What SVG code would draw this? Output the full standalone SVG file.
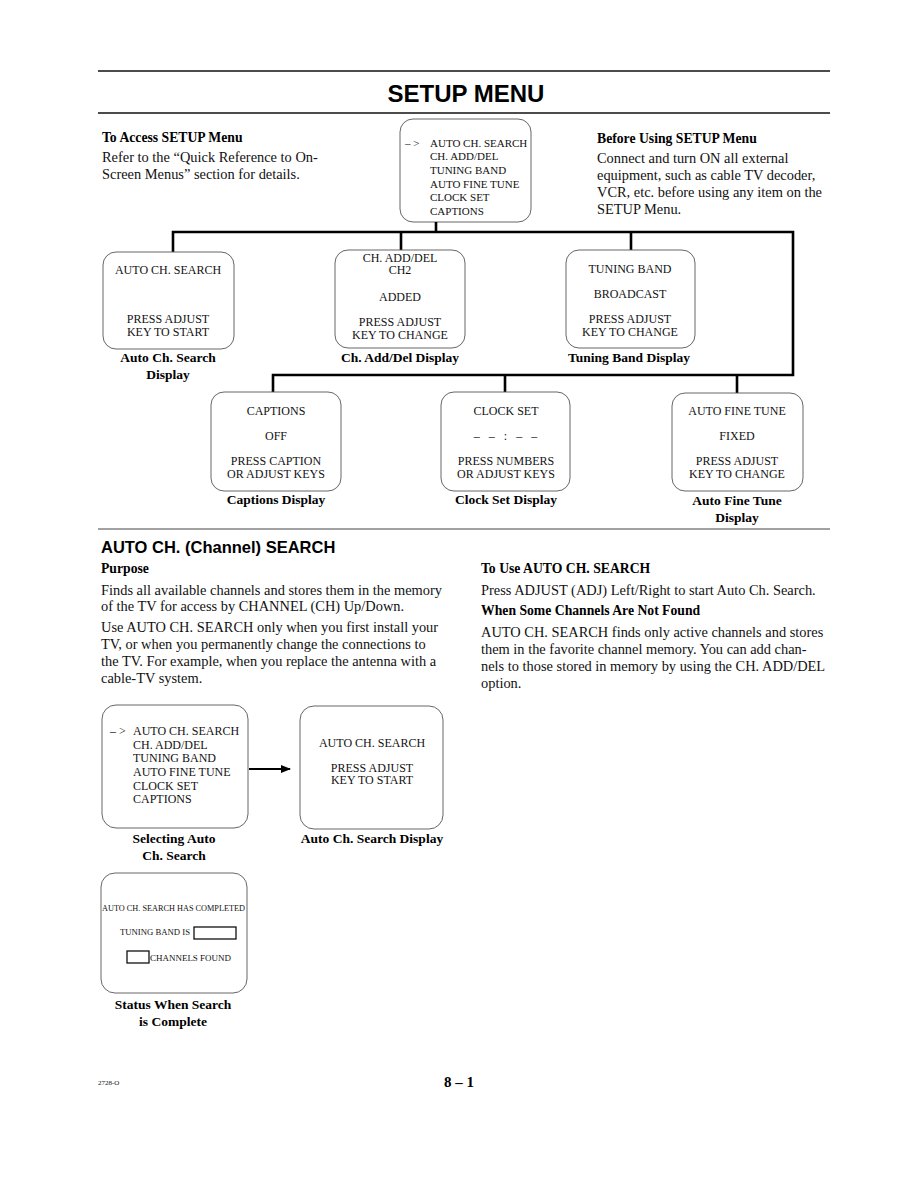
<svg xmlns="http://www.w3.org/2000/svg" width="918" height="1188" viewBox="0 0 918 1188">
<style>
.bg{fill:#fff}
.rule{stroke:#111;stroke-width:1.6;fill:none}
.thin{stroke:#444;stroke-width:1;fill:none}
.box{fill:none;stroke:#555;stroke-width:0.9}
.conn{stroke:#000;stroke-width:2.6;fill:none}
.title{font-family:"Liberation Sans",Arial,sans-serif;font-weight:bold;font-size:24px;fill:#000}
.h2{font-family:"Liberation Sans",Arial,sans-serif;font-weight:bold;font-size:16.5px;fill:#000}
.hb{font-family:"Liberation Serif","Times New Roman",serif;font-weight:bold;font-size:13.7px;fill:#000}
.body{font-family:"Liberation Serif","Times New Roman",serif;font-size:14.4px;fill:#111}
.bt{font-family:"Liberation Serif","Times New Roman",serif;font-size:12px;fill:#111}
.bs{font-family:"Liberation Serif","Times New Roman",serif;font-size:11px;fill:#111}
.tiny{font-family:"Liberation Serif","Times New Roman",serif;font-size:8px;fill:#111}
.lbl{font-family:"Liberation Serif","Times New Roman",serif;font-weight:bold;font-size:13.5px;fill:#000;text-anchor:middle}
.c{text-anchor:middle}
</style>
<defs>
<marker id="arr" markerWidth="10" markerHeight="8" refX="9" refY="4" orient="auto" markerUnits="userSpaceOnUse">
<path d="M0,0 L10,4 L0,8 Z" fill="#000"/>
</marker>
</defs>
<rect class="bg" x="0" y="0" width="918" height="1188"/>

<g id="header">
<line class="rule" x1="98" y1="71" x2="830" y2="71"/>
<text class="title c" x="466" y="102">SETUP MENU</text>
<line class="rule" x1="98" y1="113" x2="830" y2="113"/>
</g>

<g id="access-text">
<text class="hb" x="102" y="142">To Access SETUP Menu</text>
<text class="body" x="102" y="162">Refer to the “Quick Reference to On-</text>
<text class="body" x="102" y="179">Screen Menus” section for details.</text>
</g>

<g id="before-text">
<text class="hb" x="597" y="143">Before Using SETUP Menu</text>
<text class="body" x="597" y="163">Connect and turn ON all external</text>
<text class="body" x="597" y="180">equipment, such as cable TV decoder,</text>
<text class="body" x="597" y="197">VCR, etc. before using any item on the</text>
<text class="body" x="597" y="214">SETUP Menu.</text>
</g>

<g id="setup-menu">
<rect class="box" x="400" y="119" width="131" height="103" rx="13"/>
<text class="bs" x="405" y="147">– &gt;</text>
<text class="bs" x="430" y="147">AUTO CH. SEARCH</text>
<text class="bs" x="430" y="160">CH. ADD/DEL</text>
<text class="bs" x="430" y="174">TUNING BAND</text>
<text class="bs" x="430" y="188">AUTO FINE TUNE</text>
<text class="bs" x="430" y="201">CLOCK SET</text>
<text class="bs" x="430" y="215">CAPTIONS</text>
</g>

<g id="connectors">
<polyline class="conn" points="436,222 436,232"/>
<polyline class="conn" points="173,252 173,232 793,232 793,375 273,375 273,392"/>
<line class="conn" x1="401" y1="232" x2="401" y2="250"/>
<line class="conn" x1="631" y1="232" x2="631" y2="250"/>
<line class="conn" x1="505" y1="375" x2="505" y2="392"/>
<line class="conn" x1="737" y1="375" x2="737" y2="393"/>
<line stroke="#000" stroke-width="2" x1="249" y1="769" x2="290" y2="769" marker-end="url(#arr)"/>
</g>

<g id="auto-ch-search-display">
<rect class="box" x="103" y="252" width="131" height="97" rx="13"/>
<text class="bt c" x="168" y="274">AUTO CH. SEARCH</text>
<text class="bt c" x="168" y="323">PRESS ADJUST</text>
<text class="bt c" x="168" y="336">KEY TO START</text>
<text class="lbl" x="168" y="362">Auto Ch. Search</text>
<text class="lbl" x="168" y="379">Display</text>
</g>

<g id="ch-add-del-display">
<rect class="box" x="335" y="250" width="130" height="98" rx="13"/>
<text class="bt c" x="400" y="262">CH. ADD/DEL</text>
<text class="bt c" x="400" y="274">CH2</text>
<text class="bt c" x="400" y="301">ADDED</text>
<text class="bt c" x="400" y="326">PRESS ADJUST</text>
<text class="bt c" x="400" y="339">KEY TO CHANGE</text>
<text class="lbl" x="400" y="362">Ch. Add/Del Display</text>
</g>

<g id="tuning-band-display">
<rect class="box" x="566" y="250" width="129" height="98" rx="13"/>
<text class="bt c" x="630" y="273">TUNING BAND</text>
<text class="bt c" x="630" y="298">BROADCAST</text>
<text class="bt c" x="630" y="323">PRESS ADJUST</text>
<text class="bt c" x="630" y="336">KEY TO CHANGE</text>
<text class="lbl" x="629" y="362">Tuning Band Display</text>
</g>

<g id="captions-display">
<rect class="box" x="211" y="392" width="130" height="99" rx="13"/>
<text class="bt c" x="276" y="415">CAPTIONS</text>
<text class="bt c" x="276" y="440">OFF</text>
<text class="bt c" x="276" y="465">PRESS CAPTION</text>
<text class="bt c" x="276" y="478">OR ADJUST KEYS</text>
<text class="lbl" x="276" y="504">Captions Display</text>
</g>

<g id="clock-set-display">
<rect class="box" x="441" y="392" width="129" height="99" rx="13"/>
<text class="bt c" x="506" y="415">CLOCK SET</text>
<text class="bt c" x="507" y="440" style="letter-spacing:3px">– – : – –</text>
<text class="bt c" x="506" y="465">PRESS NUMBERS</text>
<text class="bt c" x="506" y="478">OR ADJUST KEYS</text>
<text class="lbl" x="506" y="504">Clock Set Display</text>
</g>

<g id="auto-fine-tune-display">
<rect class="box" x="672" y="393" width="131" height="98" rx="13"/>
<text class="bt c" x="737" y="415">AUTO FINE TUNE</text>
<text class="bt c" x="737" y="440">FIXED</text>
<text class="bt c" x="737" y="465">PRESS ADJUST</text>
<text class="bt c" x="737" y="478">KEY TO CHANGE</text>
<text class="lbl" x="737" y="505">Auto Fine Tune</text>
<text class="lbl" x="737" y="522">Display</text>
</g>

<g id="section-auto-ch">
<line class="thin" x1="98" y1="529" x2="830" y2="529"/>
<text class="h2" x="101" y="553">AUTO CH. (Channel) SEARCH</text>
<text class="hb" x="101" y="573">Purpose</text>
<text class="body" x="101" y="595">Finds all available channels and stores them in the memory</text>
<text class="body" x="101" y="611">of the TV for access by CHANNEL (CH) Up/Down.</text>
<text class="body" x="101" y="632">Use AUTO CH. SEARCH only when you first install your</text>
<text class="body" x="101" y="649">TV, or when you permanently change the connections to</text>
<text class="body" x="101" y="666">the TV. For example, when you replace the antenna with a</text>
<text class="body" x="101" y="683">cable-TV system.</text>
<text class="hb" x="481" y="573">To Use AUTO CH. SEARCH</text>
<text class="body" x="481" y="595">Press ADJUST (ADJ) Left/Right to start Auto Ch. Search.</text>
<text class="hb" x="481" y="615">When Some Channels Are Not Found</text>
<text class="body" x="481" y="637">AUTO CH. SEARCH finds only active channels and stores</text>
<text class="body" x="481" y="654">them in the favorite channel memory. You can add chan-</text>
<text class="body" x="481" y="671">nels to those stored in memory by using the CH. ADD/DEL</text>
<text class="body" x="481" y="688">option.</text>
</g>

<g id="selecting-auto-ch-search">
<rect class="box" x="102" y="705" width="146" height="123" rx="14"/>
<text class="bt" x="110" y="735">– &gt;</text>
<text class="bt" x="133" y="735">AUTO CH. SEARCH</text>
<text class="bt" x="133" y="749">CH. ADD/DEL</text>
<text class="bt" x="133" y="762">TUNING BAND</text>
<text class="bt" x="133" y="776">AUTO FINE TUNE</text>
<text class="bt" x="133" y="790">CLOCK SET</text>
<text class="bt" x="133" y="803">CAPTIONS</text>
<text class="lbl" x="174" y="843">Selecting Auto</text>
<text class="lbl" x="174" y="860">Ch. Search</text>
</g>

<g id="auto-ch-search-display-2">
<rect class="box" x="300" y="706" width="143" height="123" rx="14"/>
<text class="bt c" x="372" y="747">AUTO CH. SEARCH</text>
<text class="bt c" x="372" y="772">PRESS ADJUST</text>
<text class="bt c" x="372" y="784">KEY TO START</text>
<text class="lbl" x="372" y="843">Auto Ch. Search Display</text>
</g>

<g id="status-complete">
<rect class="box" x="101" y="873" width="146" height="120" rx="14"/>
<text class="tiny" x="102" y="911" textLength="143" lengthAdjust="spacingAndGlyphs">AUTO CH. SEARCH HAS COMPLETED</text>
<text class="tiny" x="120" y="935" textLength="70" lengthAdjust="spacingAndGlyphs">TUNING BAND IS</text>
<rect x="194" y="927" width="42" height="12" fill="none" stroke="#111" stroke-width="1.3"/>
<rect x="127" y="951" width="22" height="12" fill="none" stroke="#111" stroke-width="1.3"/>
<text class="tiny" x="150" y="961" textLength="81" lengthAdjust="spacingAndGlyphs">CHANNELS FOUND</text>
<text class="lbl" x="173" y="1009">Status When Search</text>
<text class="lbl" x="173" y="1026">is Complete</text>
</g>

<g id="footer">
<text class="tiny" x="98" y="1085" style="font-size:7px">2728-O</text>
<text class="hb" x="459" y="1087" style="font-size:15px;text-anchor:middle">8 – 1</text>
</g>
</svg>
